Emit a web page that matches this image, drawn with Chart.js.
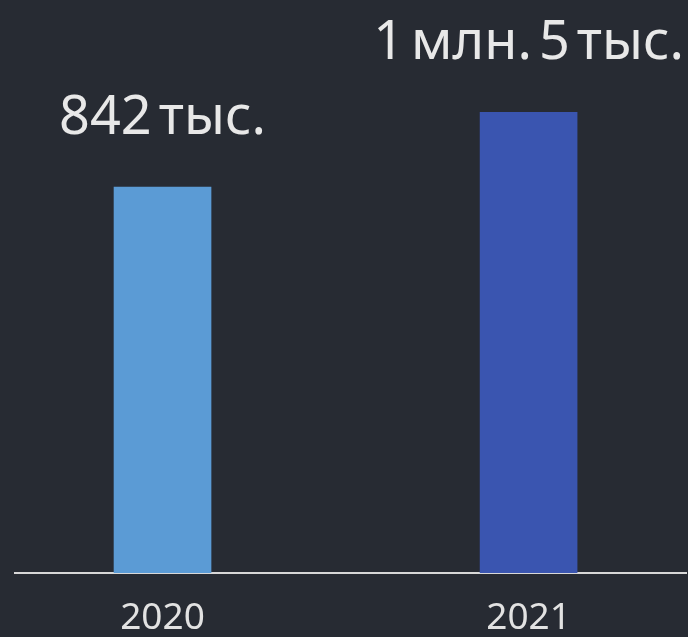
<!DOCTYPE html>
<html>
<head>
<meta charset="utf-8">
<script src="https://cdn.jsdelivr.net/npm/chart.js@4.4.1/dist/chart.umd.min.js"></script>
<style>
  html, body { margin: 0; padding: 0; background: #272b33; }
  #wrap { width: 688px; height: 637px; }
</style>
</head>
<body>
<div id="wrap"><canvas id="c" width="688" height="637"></canvas></div>
<script>
const categories = ['2020', '2021'];
const values = [842, 1005];            // тыс.
const valueLabels = ['842 тыс.', '1 млн. 5 тыс.'];
const barColors = ['#5b9bd5', '#3a55b0'];

const points = values.map((v, i) => ({ x: i, y: v }));

const topLabels = {
  id: 'topLabels',
  afterDatasetsDraw(chart) {
    const ctx = chart.ctx;
    const meta = chart.getDatasetMeta(0);
    ctx.save();
    ctx.fillStyle = '#e8e8e8';
    ctx.font = '54px "Noto Sans"';
    ctx.textAlign = 'center';
    ctx.textBaseline = 'alphabetic';
    try { ctx.wordSpacing = '-7px'; } catch (e) {}
    meta.data.forEach((el, i) => {
      ctx.fillText(valueLabels[i], el.x, el.y - 53);
    });
    ctx.restore();
  }
};

new Chart(document.getElementById('c'), {
  type: 'bar',
  data: {
    datasets: [{
      data: points,
      backgroundColor: barColors,
      barThickness: 97,
      borderWidth: 0
    }]
  },
  options: {
    responsive: false,
    animation: false,
    layout: { padding: { left: 15, right: 2, top: 0, bottom: 0 } },
    plugins: { legend: { display: false }, tooltip: { enabled: false } },
    scales: {
      x: {
        type: 'linear',
        offset: false,
        min: -0.403,
        max: 1.430,
        grid: { display: false },
        border: { display: true, color: '#d8d8d8', width: 2 },
        afterFit: (scale) => { scale.height = 64; },
        ticks: {
          stepSize: 1,
          includeBounds: false,
          maxRotation: 0,
          color: '#e2e2e2',
          font: { family: 'Noto Sans', size: 37 },
          padding: 15,
          callback: (v) => categories[v] !== undefined ? categories[v] : ''
        }
      },
      y: {
        display: false,
        min: 0,
        max: 1250
      }
    }
  },
  plugins: [topLabels]
});
</script>
</body>
</html>
